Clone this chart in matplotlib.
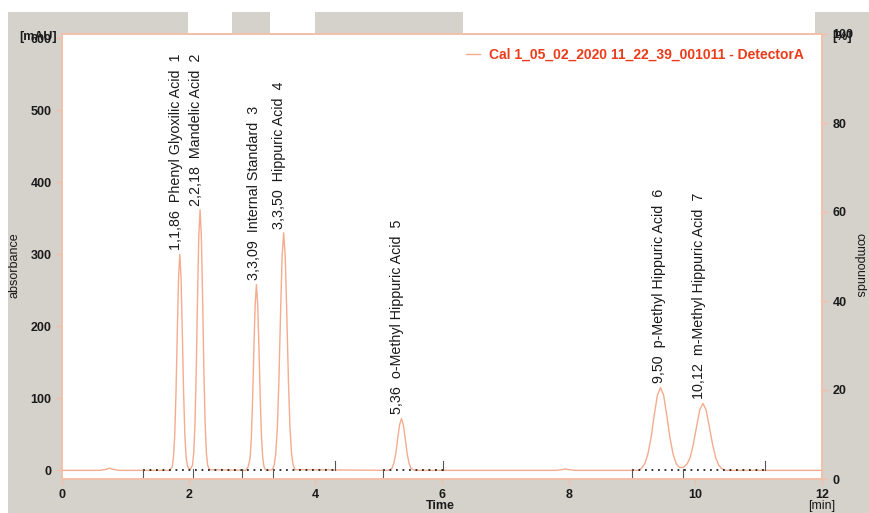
import matplotlib
matplotlib.use("Agg")
import matplotlib.pyplot as plt
from matplotlib.patches import Rectangle

plt.rcParams['font.family'] = ['Liberation Sans', 'DejaVu Sans']

# ---------------- data ----------------
trace_time = [0.00, 0.60, 0.70, 0.75, 0.80, 0.90,
              1.70, 1.71, 1.74, 1.76, 1.78, 1.80, 1.82, 1.84, 1.86, 1.88, 1.90, 1.92, 1.94, 1.96, 1.98, 2.01,
              2.03, 2.06, 2.08, 2.10, 2.12, 2.14, 2.16, 2.18, 2.20, 2.22, 2.24, 2.26, 2.28, 2.30, 2.33,
              2.90, 2.94, 2.97, 2.99, 3.01, 3.03, 3.05, 3.07, 3.09, 3.11, 3.13, 3.15, 3.17, 3.19, 3.21, 3.24,
              3.32, 3.35, 3.375, 3.40, 3.425, 3.45, 3.475, 3.50, 3.525, 3.55, 3.575, 3.60, 3.625, 3.65, 3.68,
              5.15, 5.18, 5.21, 5.24, 5.27, 5.30, 5.33, 5.36, 5.39, 5.42, 5.45, 5.48, 5.51, 5.54, 5.57,
              7.80, 7.90, 7.95, 8.00, 8.10,
              9.10, 9.15, 9.20, 9.25, 9.30, 9.35, 9.40, 9.45, 9.50, 9.55, 9.60, 9.65, 9.70, 9.75, 9.81,
              9.87, 9.92, 9.97, 10.02, 10.07, 10.12, 10.17, 10.22, 10.27, 10.32, 10.37, 10.42, 10.47, 10.55,
              12.00]
trace_abs = [0.0, 0.0, 1.5, 3.0, 1.5, 0.0,
             0.0, 1.0, 5.0, 18.0, 49.0, 108.0, 190.0, 267.0, 300.0, 267.0, 190.0, 108.0, 49.0, 18.0, 6.0, 2.0,
             2.0, 7.0, 24.0, 65.0, 140.0, 240.0, 325.0, 362.0, 325.0, 240.0, 140.0, 65.0, 24.0, 7.0, 1.0,
             0.0, 5.0, 17.0, 46.0, 100.0, 170.0, 230.0, 258.0, 230.0, 170.0, 100.0, 46.0, 17.0, 5.0, 1.0, 0.0,
             1.0, 7.0, 23.0, 59.0, 125.0, 215.0, 297.0, 330.0, 297.0, 215.0, 125.0, 59.0, 23.0, 7.0, 1.0,
             0.0, 1.0, 3.0, 10.0, 23.0, 44.0, 63.0, 72.0, 63.0, 44.0, 23.0, 10.0, 3.0, 1.0, 0.0,
             0.0, 1.0, 2.0, 1.0, 0.0,
             0.0, 3.0, 9.0, 22.0, 45.0, 76.0, 104.0, 115.0, 104.0, 76.0, 45.0, 22.0, 9.0, 4.0, 4.0,
             9.0, 18.0, 37.0, 61.0, 84.0, 93.0, 84.0, 61.0, 37.0, 18.0, 7.0, 2.0, 0.0, 0.0,
             0.0]

peak_times = [1.86, 2.18, 3.09, 3.50, 5.36, 9.50, 10.12]
peak_heights = [300, 362, 258, 330, 72, 115, 93]
peak_labels = ["1,1,86  Phenyl Glyoxilic Acid  1",
               "2,2,18  Mandelic Acid  2",
               "3,3,09  Internal Standard  3",
               "3,3,50  Hippuric Acid  4",
               "5,36  o-Methyl Hippuric Acid  5",
               "9,50  p-Methyl Hippuric Acid  6",
               "10,12  m-Methyl Hippuric Acid  7"]

baseline_starts = [1.28, 5.07, 9.00]
baseline_ends = [4.31, 6.02, 11.10]
baseline_splits = [2.07, 2.84, 3.33, 9.80]

x_ticks = [0, 2, 4, 6, 8, 10, 12]
left_ticks = [0, 100, 200, 300, 400, 500, 600]
right_ticks = [0, 20, 40, 60, 80, 100]
legend_label = "Cal 1_05_02_2020 11_22_39_001011 - DetectorA"

# ---------------- styling ----------------
W, H = 870, 513
GRAY = '#d5d2cb'
ORANGE = '#f4ab8e'
SPINE = '#f2c0aa'
RED = '#ea3b1a'
TXT = '#1a1a1a'

fig = plt.figure(figsize=(W / 100, H / 100), dpi=100, facecolor='white')

def fx(px):
    return px / W

def fy(py):
    return 1 - py / H

# gray window background
fig.patches.append(Rectangle((fx(8), 0), 1 - fx(8), fy(12), transform=fig.transFigure,
                             facecolor=GRAY, edgecolor='none', zorder=-10))
# white gaps in top strip
for x0, x1 in [(188, 232), (270, 315), (463, 815)]:
    fig.patches.append(Rectangle((fx(x0), fy(34)), fx(x1) - fx(x0), fy(12) - fy(34),
                                 transform=fig.transFigure, facecolor='white',
                                 edgecolor='none', zorder=-9))

ax_l, ax_r, ax_t, ax_b = 62, 822, 34, 479
ax = fig.add_axes([fx(ax_l), fy(ax_b), fx(ax_r) - fx(ax_l), fy(ax_t) - fy(ax_b)])
ax.set_zorder(1)
ax.set_facecolor('white')
ax.set_xlim(0, 12)
ax.set_ylim(-12, 606)

ax.plot(trace_time, trace_abs, color=ORANGE, lw=1.0, label=legend_label, zorder=3)

# integration baselines (dotted) with marker ticks
for s, e in zip(baseline_starts, baseline_ends):
    ax.plot([s, e], [0, 0], color='#222222', lw=1.3, ls=(0, (1, 2.6)), zorder=4)
    ax.plot([s, s], [-9, 2], color='#555555', lw=0.8, zorder=4)
    ax.plot([e, e], [0, 13], color='#555555', lw=0.8, zorder=4)
for s in baseline_splits:
    ax.plot([s, s], [-9, 2], color='#555555', lw=0.8, zorder=4)

# peak labels
for t, h, lab in zip(peak_times, peak_heights, peak_labels):
    ax.annotate(lab, xy=(t, h), xytext=(-3, 3), textcoords='offset points',
                rotation=90, ha='center', va='bottom', fontsize=10.3, color=TXT)

for sp in ax.spines.values():
    sp.set_color(SPINE)
    sp.set_linewidth(1.2)

ax.set_xticks(x_ticks)
ax.set_yticks(left_ticks)
ax.tick_params(axis='both', colors=SPINE, labelcolor=TXT, labelsize=9, length=4, width=1)
for lbl in ax.get_xticklabels() + ax.get_yticklabels():
    lbl.set_fontweight('bold')

axr = ax.twinx()
axr.set_ylim(0, 100)
axr.set_yticks(right_ticks)
axr.tick_params(axis='y', colors=SPINE, labelcolor=TXT, labelsize=9, length=4, width=1)
for lbl in axr.get_yticklabels():
    lbl.set_fontweight('bold')
for sp in axr.spines.values():
    sp.set_color(SPINE)
    sp.set_linewidth(1.2)

leg = ax.legend(loc='upper right', frameon=False, fontsize=10, handlelength=1.0,
                handletextpad=0.7, borderaxespad=0.6, bbox_to_anchor=(0.995, 1.0))
for txt in leg.get_texts():
    txt.set_color(RED)
    txt.set_fontweight('bold')

# unit and axis labels
fig.text(fx(57), fy(37), "[mAU]", ha='right', va='center', fontsize=9, fontweight='bold', color=TXT)
fig.text(fx(832), fy(37), "[%]", ha='left', va='center', fontsize=9, fontweight='bold', color=TXT)
fig.text(fx(822), fy(506), "[min]", ha='center', va='center', fontsize=9, color=TXT)
fig.text(fx(15), fy(265), "absorbance", rotation=90, ha='center', va='center', fontsize=9, color=TXT)
fig.text(fx(860), fy(265), "compounds", rotation=270, ha='center', va='center', fontsize=9, color=TXT)
fig.text(fx(440), fy(512), "Time", ha='center', va='bottom', fontsize=9, fontweight='bold', color=TXT)

fig.savefig("out.png", dpi=100, facecolor=fig.get_facecolor())
